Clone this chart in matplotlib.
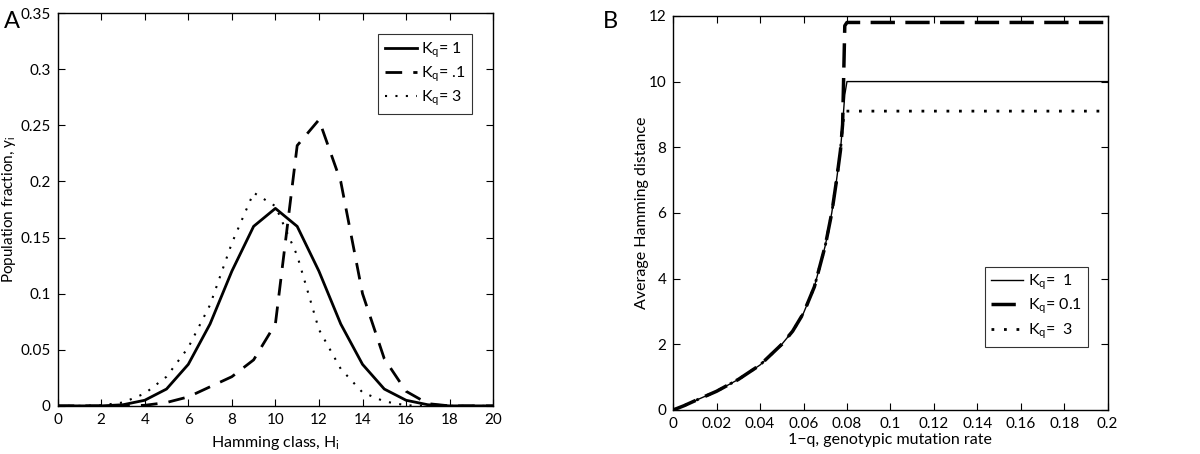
import matplotlib
matplotlib.use("Agg")
import matplotlib.pyplot as plt

plt.rcParams['font.family'] = ['Lato', 'DejaVu Sans']
plt.rcParams['mathtext.fontset'] = 'custom'
plt.rcParams['mathtext.rm'] = 'Lato'
plt.rcParams['mathtext.it'] = 'Lato'

# panel A: population fraction per Hamming class
hamming_class = list(range(21))
frac_k1 = [0, 0, 0, 0.001, 0.005, 0.015, 0.037, 0.073, 0.12, 0.16, 0.176,
           0.16, 0.12, 0.073, 0.037, 0.015, 0.005, 0.001, 0, 0, 0]
frac_k01 = [0, 0, 0, 0, 0.0005, 0.003, 0.008, 0.017, 0.026, 0.041, 0.073,
            0.232, 0.255, 0.2, 0.1, 0.042, 0.013, 0.002, 0, 0, 0]
frac_k3 = [0, 0, 0.0005, 0.003, 0.011, 0.026, 0.052, 0.09, 0.145, 0.19, 0.178,
           0.134, 0.068, 0.033, 0.012, 0.004, 0.0005, 0, 0, 0, 0]

# panel B: average Hamming distance vs mutation rate
mut_rate = [0, 0.005, 0.01, 0.02, 0.03, 0.04, 0.05, 0.055, 0.06, 0.065,
            0.07, 0.073, 0.075, 0.077, 0.078, 0.079, 0.08, 0.1, 0.15, 0.2]
dist_k1 = [0, 0.13, 0.28, 0.57, 0.93, 1.37, 2.0, 2.4, 2.95, 3.75,
           5.0, 6.0, 6.9, 7.9, 8.7, 9.6, 10.0, 10.0, 10.0, 10.0]
dist_k01 = [0, 0.13, 0.28, 0.57, 0.93, 1.37, 2.0, 2.4, 2.95, 3.75,
            5.0, 6.0, 6.9, 7.9, 8.7, 11.7, 11.8, 11.8, 11.8, 11.8]
dist_k3 = [0, 0.13, 0.28, 0.57, 0.93, 1.37, 2.0, 2.4, 2.95, 3.75,
           5.0, 6.0, 6.9, 7.9, 8.7, 9.1, 9.1, 9.1, 9.1, 9.1]

fig = plt.figure(figsize=(12, 4.54), dpi=100)
ax1 = fig.add_axes([0.048, 0.106, 0.363, 0.865])
ax2 = fig.add_axes([0.561, 0.097, 0.362, 0.868])

ax1.plot(hamming_class, frac_k1, color='black', lw=2, label='K$_q$= 1')
ax1.plot(hamming_class, frac_k01, color='black', lw=2, dashes=(6, 4), label='K$_q$= .1')
ax1.plot(hamming_class, frac_k3, color='black', lw=1.5, linestyle=(0, (1, 4)), label='K$_q$= 3')
ax1.set_xlim(0, 20)
ax1.set_ylim(0, 0.35)
ax1.set_xticks(range(0, 21, 2))
ax1.set_yticks([0, 0.05, 0.1, 0.15, 0.2, 0.25, 0.3, 0.35])
ax1.set_yticklabels(['0', '0.05', '0.1', '0.15', '0.2', '0.25', '0.3', '0.35'])
ax1.set_xlabel('Hamming class, H$_i$', fontsize=11.5)
ax1.set_ylabel('Population fraction, y$_i$', fontsize=11)
ax1.yaxis.set_label_coords(-0.09, 0.5)
ax1.xaxis.set_label_coords(0.5, -0.072)
leg1 = ax1.legend(loc='upper right', fancybox=False, edgecolor='black',
                  fontsize=11.5, handlelength=2.0, borderaxespad=1.3,
                  labelspacing=0.3, handletextpad=0.3)
leg1.get_frame().set_linewidth(0.8)
fig.text(0.003, 0.975, 'A', fontsize=17, va='top')

ax2.plot(mut_rate, dist_k1, color='black', lw=1, label='K$_q$=  1')
ax2.plot(mut_rate, dist_k01, color='black', lw=2.5, dashes=(7, 3), label='K$_q$= 0.1')
ax2.plot(mut_rate, dist_k3, color='black', lw=2, linestyle=(0, (1, 3.5)), label='K$_q$=  3')
ax2.set_xlim(0, 0.2)
ax2.set_ylim(0, 12)
xt = [0, 0.02, 0.04, 0.06, 0.08, 0.1, 0.12, 0.14, 0.16, 0.18, 0.2]
ax2.set_xticks(xt)
ax2.set_xticklabels(['0'] + ['%g' % v for v in xt[1:]])
ax2.set_yticks(range(0, 13, 2))
ax2.set_xlabel('1\u2212q, genotypic mutation rate', fontsize=11.5)
ax2.set_ylabel('Average Hamming distance', fontsize=11.5)
ax2.yaxis.set_label_coords(-0.055, 0.5)
ax2.xaxis.set_label_coords(0.5, -0.058)
leg2 = ax2.legend(loc='lower right', bbox_to_anchor=(0.955, 0.16), fancybox=False,
                  edgecolor='black', fontsize=11.5, handlelength=2.0, borderaxespad=0,
                  labelspacing=0.3, handletextpad=0.3)
leg2.get_frame().set_linewidth(0.8)
fig.text(0.502, 0.975, 'B', fontsize=17, va='top')

for ax in (ax1, ax2):
    ax.tick_params(direction='in', top=True, right=True, labelsize=11, length=5, pad=5)
    for s in ax.spines.values():
        s.set_linewidth(1)

fig.savefig('out.png', dpi=100)
